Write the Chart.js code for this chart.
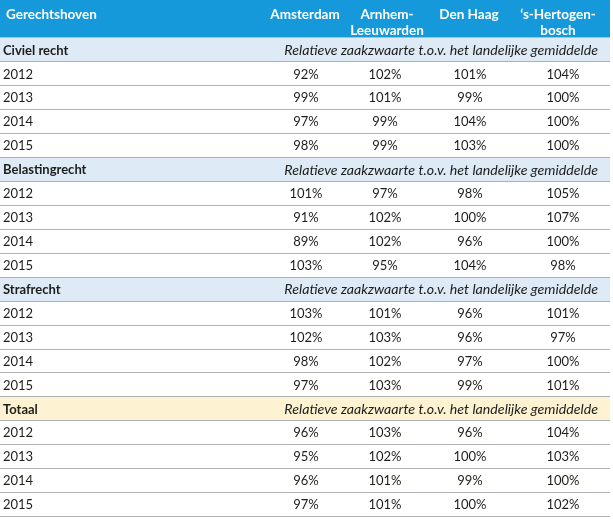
<!DOCTYPE html>
<html>
<head>
<meta charset="utf-8">
<script src="https://cdn.jsdelivr.net/npm/chart.js@4/dist/chart.umd.min.js"></script>
<style>
  html, body { margin: 0; padding: 0; background: #ffffff; }
  #wrap { width: 613px; height: 523px; }
</style>
</head>
<body>
<div id="wrap"><canvas id="c" width="613" height="523"></canvas></div>
<script>
// ---------------- DATA ----------------
const firstHeader = 'Gerechtshoven';
const courts = [['Amsterdam'], ['Arnhem-', 'Leeuwarden'], ['Den Haag'], ['\u2018s-Hertogen-', 'bosch']];
const sections = ['Civiel recht', 'Belastingrecht', 'Strafrecht', 'Totaal'];
const subtitle = 'Relatieve zaakzwaarte t.o.v. het landelijke gemiddelde';
const years = ['2012', '2013', '2014', '2015'];

// values per year (rows) and per court (Amsterdam, Arnhem-Leeuwarden, Den Haag, 's-Hertogenbosch), in %
const civielRecht    = [[92, 102, 101, 104], [99, 101, 99, 100], [97, 99, 104, 100], [98, 99, 103, 100]];
const belastingrecht = [[101, 97, 98, 105], [91, 102, 100, 107], [89, 102, 96, 100], [103, 95, 104, 98]];
const strafrecht     = [[103, 101, 96, 101], [102, 103, 96, 97], [98, 102, 97, 100], [97, 103, 99, 101]];
const totaal         = [[96, 103, 96, 104], [95, 102, 100, 103], [96, 101, 99, 100], [97, 101, 100, 102]];
const sectionValues = [civielRecht, belastingrecht, strafrecht, totaal];

// ---------------- LAYOUT (not data) ----------------
const HEADER_UNITS = 1.567;          // header band height in row units
const X_MAX = 610;                    // table width in x-units
const LABEL_X = 3;
const HEADER_LABEL_X = 6;
const SUBTITLE_RIGHT_X = 598;
const HEADER_COL_X = [305, 387, 469, 558];
const VALUE_COL_X = [306, 385, 470, 563];
const HEADER_LINE_Y = [-1.0, -0.32];
const ROWS_PER_SECTION = years.length + 1;
const TOTAL_ROWS = sections.length * ROWS_PER_SECTION;

const COLORS = {
  header: '#1699da',
  section: '#deebf7',
  totaal: '#fdf3d3',
  line: '#adb1b5',
  text: '#1d1d1b',
  headerText: '#ffffff'
};
const FONT = 'Lato, "Open Sans", sans-serif';

// ---------------- build datasets ----------------
const headerPts = [{ x: HEADER_LABEL_X, y: HEADER_LINE_Y[0], t: firstHeader, align: 'left' }];
courts.forEach((lines, c) => lines.forEach((ln, k) => headerPts.push({ x: HEADER_COL_X[c], y: HEADER_LINE_Y[k], t: ln, align: 'center' })));

const sectionPts = [], subtitlePts = [], yearPts = [], valuePts = [];
sections.forEach((s, si) => {
  const r = si * ROWS_PER_SECTION;
  sectionPts.push({ x: LABEL_X, y: r + 0.5, t: s });
  subtitlePts.push({ x: SUBTITLE_RIGHT_X, y: r + 0.5, t: subtitle });
  years.forEach((yr, yi) => {
    yearPts.push({ x: LABEL_X, y: r + yi + 1.5, t: yr });
    sectionValues[si][yi].forEach((v, c) => valuePts.push({ x: VALUE_COL_X[c], y: r + yi + 1.5, t: v + '%' }));
  });
});

const textStyle = (font, color, align) => ({
  type: 'scatter', pointRadius: 0, pointHoverRadius: 0, showLine: false,
  textFont: font, textColor: color, textAlign: align
});

const datasets = [
  Object.assign({ label: 'header', data: headerPts }, textStyle('bold 13.5px ' + FONT, COLORS.headerText, null)),
  Object.assign({ label: 'sections', data: sectionPts }, textStyle('bold 13px ' + FONT, COLORS.text, 'left')),
  Object.assign({ label: 'subtitle', data: subtitlePts }, textStyle('italic 14.2px ' + FONT, COLORS.text, 'right')),
  Object.assign({ label: 'years', data: yearPts }, textStyle('13px ' + FONT, COLORS.text, 'left')),
  Object.assign({ label: 'values', data: valuePts }, textStyle('13px ' + FONT, COLORS.text, 'center'))
];

// ---------------- plugins ----------------
const tableBackground = {
  id: 'tableBackground',
  beforeDatasetsDraw(chart) {
    const { ctx, scales: { x, y } } = chart;
    const x0 = x.getPixelForValue(0), x1 = x.getPixelForValue(X_MAX);
    ctx.save();
    const hTop = y.getPixelForValue(-HEADER_UNITS), hBot = y.getPixelForValue(0);
    ctx.fillStyle = COLORS.header;
    ctx.fillRect(x0, hTop, x1 - x0, hBot - hTop);
    sections.forEach((s, si) => {
      const r = si * ROWS_PER_SECTION;
      const t = y.getPixelForValue(r), b = y.getPixelForValue(r + 1);
      ctx.fillStyle = si === sections.length - 1 ? COLORS.totaal : COLORS.section;
      ctx.fillRect(x0, Math.round(t) + 1, x1 - x0, Math.round(b) - Math.round(t) - 1);
    });
    ctx.strokeStyle = COLORS.line;
    ctx.lineWidth = 1;
    for (let r = 1; r <= TOTAL_ROWS; r++) {
      const py = Math.round(y.getPixelForValue(r)) + 0.5;
      ctx.beginPath();
      ctx.moveTo(x0, py);
      ctx.lineTo(x1, py);
      ctx.stroke();
    }
    ctx.restore();
  }
};

const tableText = {
  id: 'tableText',
  afterDatasetsDraw(chart) {
    const { ctx } = chart;
    ctx.save();
    ctx.textBaseline = 'middle';
    chart.data.datasets.forEach((ds, di) => {
      const meta = chart.getDatasetMeta(di);
      ctx.font = ds.textFont;
      ctx.fillStyle = ds.textColor;
      meta.data.forEach((el, i) => {
        const d = ds.data[i];
        ctx.textAlign = ds.textAlign || d.align;
        ctx.fillText(d.t, el.x, el.y + 1);
      });
    });
    ctx.restore();
  }
};

new Chart(document.getElementById('c'), {
  type: 'scatter',
  data: { datasets },
  options: {
    responsive: false,
    animation: false,
    events: [],
    layout: { padding: { left: 0, top: 0, right: 3, bottom: 7 } },
    plugins: { legend: { display: false }, tooltip: { enabled: false }, title: { display: false } },
    scales: {
      x: { type: 'linear', min: 0, max: X_MAX, display: false },
      y: { type: 'linear', min: -HEADER_UNITS, max: TOTAL_ROWS, reverse: true, display: false }
    }
  },
  plugins: [tableBackground, tableText]
});
</script>
</body>
</html>
